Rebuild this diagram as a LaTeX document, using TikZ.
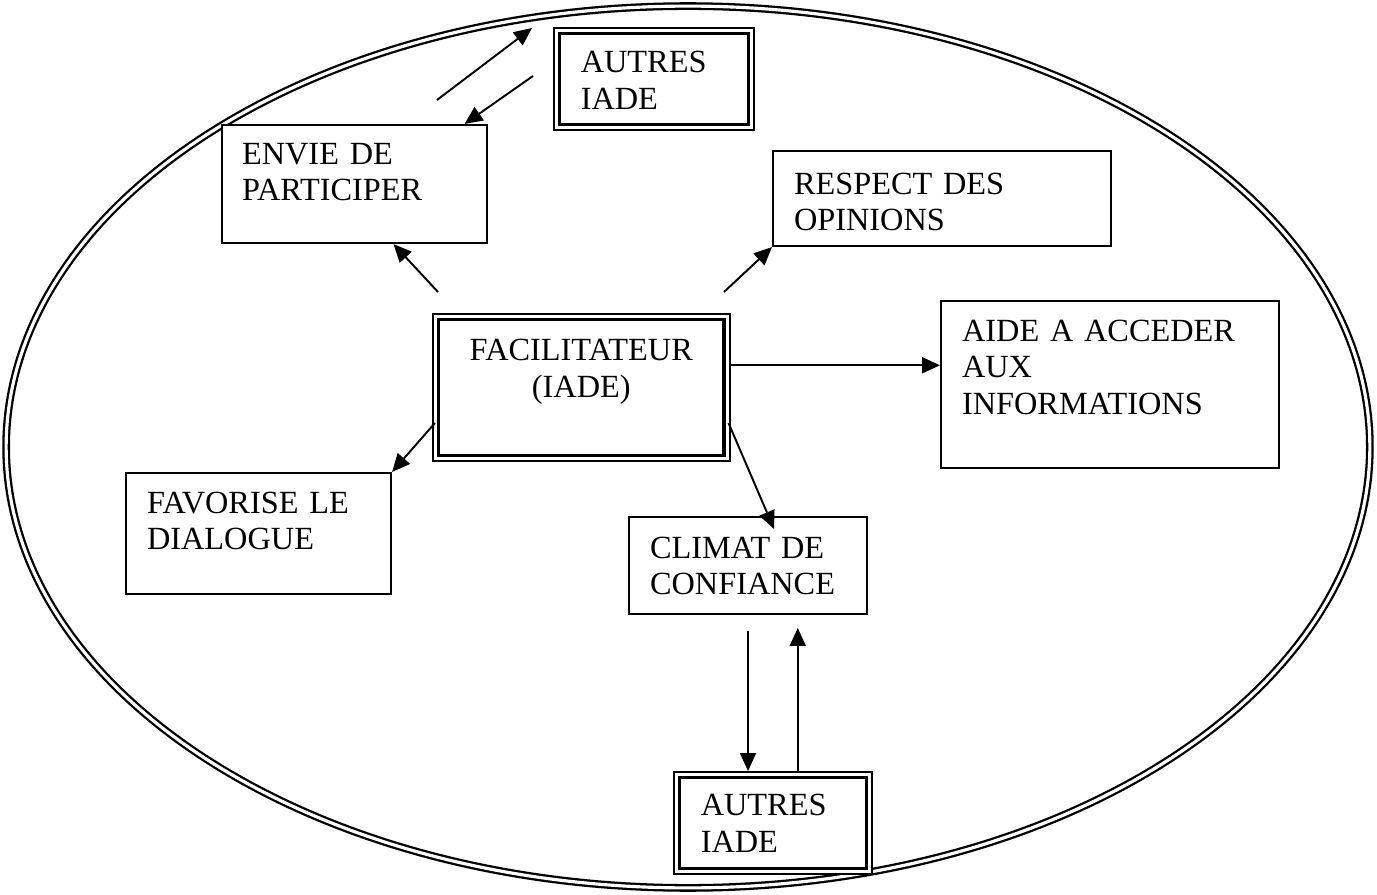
\documentclass[tikz,border=0pt]{standalone}
\usepackage{fontspec}
\setmainfont{Liberation Serif}
\usetikzlibrary{arrows.meta}

\begin{document}
\begin{tikzpicture}[x=0.02cm,y=-0.02cm,
  every node/.style={font=\fontsize{18.4}{21}\selectfont},
  box/.style={draw,fill=white,line width=1.2pt,anchor=north west,align=left,inner ysep=0pt},
  dbox/.style={box,line width=0.9pt,path picture={\draw[line width=2pt] ([shift={(0.11cm,-0.11cm)}]path picture bounding box.north west) rectangle ([shift={(-0.11cm,0.11cm)}]path picture bounding box.south east);}},
  arr/.style={line width=1.1pt,-{Triangle[length=0.36cm,width=0.32cm]}}]
\useasboundingbox (0,0) rectangle (1377,895);
\draw[line width=1.3pt,double,double distance=1.8pt] (688,447) ellipse [x radius=13.64cm,y radius=8.82cm];

\node[dbox,inner xsep=0.54cm,text width=2.92cm,text height=0.9cm,text depth=1.14cm] (autresA) at (553,27) {AUTRES\\IADE};
\node[box,inner xsep=0.4cm,text width=4.5cm,text height=0.78cm,text depth=1.58cm] (envie) at (221,124) {ENVIE DE\\PARTICIPER};
\node[box,inner xsep=0.42cm,text width=5.92cm,text height=0.86cm,text depth=1.04cm] (respect) at (772,150) {RESPECT DES\\OPINIONS};
\node[dbox,align=center,inner xsep=0.4cm,text width=5.14cm,text height=0.94cm,text depth=2.0cm] (fac) at (432,313) {FACILITATEUR\\(IADE)};
\node[box,inner xsep=0.42cm,text width=5.92cm,text height=0.8cm,text depth=2.54cm] (aide) at (940,300) {AIDE A ACCEDER\\AUX\\INFORMATIONS};
\node[box,inner xsep=0.42cm,text width=4.46cm,text height=0.8cm,text depth=1.62cm] (favorise) at (125,472) {FAVORISE LE\\DIALOGUE};
\node[box,inner xsep=0.42cm,text width=3.92cm,text height=0.82cm,text depth=1.12cm] (climat) at (628,516) {CLIMAT DE\\CONFIANCE};
\node[dbox,inner xsep=0.54cm,text width=2.88cm,text height=0.88cm,text depth=1.16cm] (autresB) at (673,771) {AUTRES\\IADE};

\coordinate (p1) at (437,100);
\coordinate (p2) at (532,28);
\coordinate (p3) at (533,76);
\coordinate (p4) at (438,292);
\coordinate (p5) at (724,292);

\draw[arr] (p1) -- (p2);
\draw[arr] (p3) -- ([shift={(110,0)}]envie.north);
\draw[arr] (p4) -- ([shift={(39,0)}]envie.south);
\draw[arr] (p5) -- (respect.south west);
\draw[arr] ([yshift=0.44cm]fac.east) -- ([yshift=0.44cm]fac.east -| aide.west);
\draw[arr] ([shift={(3,110)}]fac.north west) -- (favorise.north east);
\draw[arr] ([shift={(-2,110)}]fac.north east) -- ([shift={(26,13)}]climat.north);
\draw[arr] ([yshift=-0.32cm]climat.south) -- (climat.south |- autresB.north);
\draw[arr] ([xshift=0.5cm]autresB.north) -- ++(0,-143);
\end{tikzpicture}
\end{document}
